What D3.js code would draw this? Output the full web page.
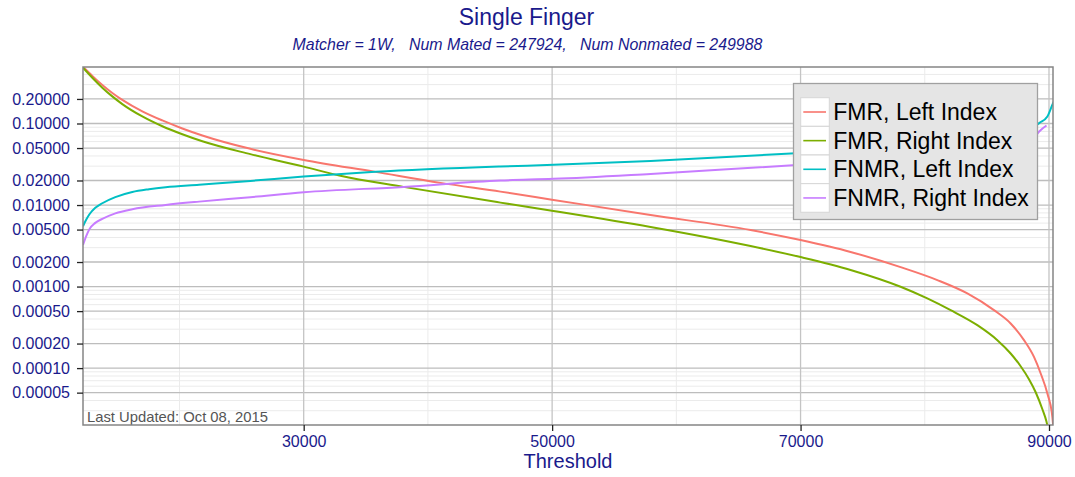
<!DOCTYPE html>
<html>
<head>
<meta charset="utf-8">
<script src="https://cdn.jsdelivr.net/npm/d3@7"></script>
<style>
  body { margin: 0; background: #fff; }
  svg { font-family: "Liberation Sans", Arial, sans-serif; }
</style>
</head>
<body>
<svg width="1075" height="477"></svg>
<script>
// values
var seriesNames = ["FMR, Left Index", "FMR, Right Index", "FNMR, Left Index", "FNMR, Right Index"];
var seriesColors = ["#F8766D", "#7CAE00", "#00BFC4", "#C77CFF"];

var fmrLeftT = [12234, 12983, 13788, 14593, 15398, 17009, 18620, 20230, 21841, 25707, 30000, 35775, 41010, 45842, 50110, 57923, 65977, 70000, 74027, 78054, 81010, 83426, 85568, 86913, 87986, 88791, 89331, 89870, 90273, 90400];
var fmrLeftV = [0.497, 0.384, 0.297, 0.237, 0.195, 0.141, 0.109, 0.0869, 0.0713, 0.0489, 0.0357, 0.0255, 0.0187, 0.0146, 0.01156, 0.00755, 0.00494, 0.00372, 0.00266, 0.00173, 0.00120, 0.000824, 0.000514, 0.000353, 0.000220, 0.000137, 0.0000859, 0.0000488, 0.0000251, 0.0000150];

var fmrRightT = [12234, 12983, 13788, 14593, 15398, 17009, 18620, 20230, 21841, 25707, 30000, 32956, 38030, 45842, 50110, 57923, 65977, 70000, 74027, 78054, 80204, 82081, 84231, 85842, 86913, 87718, 88388, 88928, 89468, 89790, 89950];
var fmrRightV = [0.483, 0.364, 0.275, 0.215, 0.173, 0.122, 0.0925, 0.0738, 0.0605, 0.0421, 0.0296, 0.0228, 0.0167, 0.0107, 0.00846, 0.00538, 0.00314, 0.0023, 0.0016, 0.000995, 0.000716, 0.000514, 0.000336, 0.000220, 0.000151, 0.0001054, 0.0000731, 0.0000506, 0.0000313, 0.0000223, 0.0000173];

var fnmrLeftT = [12234, 12499, 12740, 13224, 13788, 14835, 16203, 17548, 18885, 21576, 25707, 30000, 35775, 45842, 50110, 57923, 70000, 78054, 86108, 88522, 89210, 89870, 90273, 90378];
var fnmrLeftV = [0.0055, 0.00664, 0.00765, 0.00924, 0.01052, 0.01251, 0.01444, 0.01563, 0.01655, 0.01775, 0.01977, 0.02234, 0.02553, 0.02965, 0.0311, 0.0347, 0.0436, 0.050, 0.063, 0.0837, 0.1011, 0.122, 0.170, 0.185];

var fnmrRightT = [12234, 12499, 12740, 13224, 13788, 14835, 16203, 18885, 21576, 25707, 30000, 38030, 45842, 50110, 57923, 70000, 78054, 86108, 88522, 89210, 89800];
var fnmrRightV = [0.00324, 0.00418, 0.00503, 0.00604, 0.00676, 0.00790, 0.00888, 0.01002, 0.01101, 0.01248, 0.01435, 0.01668, 0.01995, 0.02094, 0.0241, 0.0311, 0.0358, 0.0449, 0.058, 0.0798, 0.0945];

var xTicks = [30000, 50000, 70000, 90000];
var xMinor = [20000, 40000, 60000, 80000];
var yTicks = [0.2, 0.1, 0.05, 0.02, 0.01, 0.005, 0.002, 0.001, 0.0005, 0.0002, 0.0001, 0.00005];
var yTickLabels = ["0.20000", "0.10000", "0.05000", "0.02000", "0.01000", "0.00500", "0.00200", "0.00100", "0.00050", "0.00020", "0.00010", "0.00005"];
var yMinorMult = [3, 4, 6, 7, 8, 9];

var xDomain = [12234, 90322];
var yDomain = [2.005e-5, 0.4931];

var navy = "#1a1a8c";
var pLeft = 83, pRight = 1053, pTop = 67, pBottom = 425;

var svg = d3.select("svg");
var xs = d3.scaleLinear().domain(xDomain).range([pLeft, pRight]);
var ys = d3.scaleLog().domain(yDomain).range([pBottom, pTop]);

// minor y lines
var yMinor = [];
[-5, -4, -3, -2, -1].forEach(function(e) {
    yMinorMult.forEach(function(k) {
        var v = k * Math.pow(10, e);
        if (v > yDomain[0] && v < yDomain[1]) yMinor.push(v);
    });
});

var grid = svg.append("g");
grid.selectAll(".ymin").data(yMinor).enter().append("line")
    .attr("x1", pLeft).attr("x2", pRight)
    .attr("y1", function(d) { return ys(d); }).attr("y2", function(d) { return ys(d); })
    .attr("stroke", "#ebebeb").attr("stroke-width", 1);
grid.selectAll(".xmin").data(xMinor).enter().append("line")
    .attr("y1", pTop).attr("y2", pBottom)
    .attr("x1", function(d) { return xs(d); }).attr("x2", function(d) { return xs(d); })
    .attr("stroke", "#ebebeb").attr("stroke-width", 1);
grid.selectAll(".ymaj").data(yTicks).enter().append("line")
    .attr("x1", pLeft).attr("x2", pRight)
    .attr("y1", function(d) { return ys(d); }).attr("y2", function(d) { return ys(d); })
    .attr("stroke", "#bdbdbd").attr("stroke-width", 1.3);
grid.selectAll(".xmaj").data(xTicks).enter().append("line")
    .attr("y1", pTop).attr("y2", pBottom)
    .attr("x1", function(d) { return xs(d); }).attr("x2", function(d) { return xs(d); })
    .attr("stroke", "#c4c4c4").attr("stroke-width", 1.3);

svg.append("clipPath").attr("id", "clip")
    .append("rect").attr("x", pLeft).attr("y", pTop).attr("width", pRight - pLeft).attr("height", pBottom - pTop);

var line = d3.line()
    .x(function(d) { return xs(d[0]); })
    .y(function(d) { return ys(d[1]); })
    .curve(d3.curveMonotoneX);

var allT = [fmrLeftT, fmrRightT, fnmrLeftT, fnmrRightT];
var allV = [fmrLeftV, fmrRightV, fnmrLeftV, fnmrRightV];
var curves = svg.append("g").attr("clip-path", "url(#clip)");
allT.forEach(function(ts, i) {
    var pts = ts.map(function(t, j) { return [t, allV[i][j]]; });
    curves.append("path").datum(pts)
        .attr("d", line)
        .attr("fill", "none")
        .attr("stroke", seriesColors[i])
        .attr("stroke-width", 2);
});

// annotation
svg.append("text").attr("x", 87).attr("y", 421.5)
    .attr("font-size", 14.8).attr("fill", "#555")
    .text("Last Updated: Oct 08, 2015");

// panel border
svg.append("rect").attr("x", pLeft).attr("y", pTop).attr("width", pRight - pLeft).attr("height", pBottom - pTop)
    .attr("fill", "none").attr("stroke", "#858585").attr("stroke-width", 1.5);

// axes
var yAxis = svg.append("g").attr("transform", "translate(" + pLeft + ",0)")
    .call(d3.axisLeft(ys).tickValues(yTicks).tickSize(6).tickPadding(7)
        .tickFormat(function(d, i) { return yTickLabels[i]; }));
var xAxis = svg.append("g").attr("transform", "translate(0," + pBottom + ")")
    .call(d3.axisBottom(xs).tickValues(xTicks).tickSize(6).tickPadding(5).tickFormat(d3.format("d")));
[yAxis, xAxis].forEach(function(a) {
    a.select(".domain").remove();
    a.selectAll(".tick line").attr("stroke", "#222").attr("stroke-width", 1.3);
    a.selectAll(".tick text").attr("fill", navy).attr("font-size", 16)
        .attr("font-family", "Liberation Sans, Arial, sans-serif");
});

svg.append("text").attr("x", (pLeft + pRight) / 2).attr("y", 468)
    .attr("text-anchor", "middle").attr("font-size", 20).attr("fill", navy)
    .text("Threshold");

svg.append("text").attr("x", 526.5).attr("y", 25)
    .attr("text-anchor", "middle").attr("font-size", 23).attr("fill", navy)
    .text("Single Finger");
svg.append("text").attr("x", 527.5).attr("y", 50)
    .attr("text-anchor", "middle").attr("font-size", 15.9).attr("font-style", "italic")
    .attr("fill", navy).style("white-space", "pre")
    .text("Matcher = 1W,   Num Mated = 247924,   Num Nonmated = 249988");

// legend
var lg = svg.append("g");
lg.append("rect").attr("x", 793.5).attr("y", 83.5).attr("width", 244).attr("height", 136)
    .attr("fill", "#e5e5e5").attr("stroke", "#a0a0a0").attr("stroke-width", 1.3);
seriesNames.forEach(function(name, i) {
    var ky = 97.7 + i * 28.65;
    lg.append("rect").attr("x", 800.7).attr("y", ky).attr("width", 28.6).attr("height", 28.6)
        .attr("fill", "#fff").attr("stroke", "#d6d6d6").attr("stroke-width", 1);
    lg.append("line").attr("x1", 803.3).attr("x2", 826).attr("y1", ky + 14.3).attr("y2", ky + 14.3)
        .attr("stroke", seriesColors[i]).attr("stroke-width", 1.6);
    lg.append("text").attr("x", 833.3).attr("y", ky + 14.3).attr("dy", "0.35em")
        .attr("font-size", 23).attr("fill", "#000").text(name);
});
</script>
</body>
</html>
